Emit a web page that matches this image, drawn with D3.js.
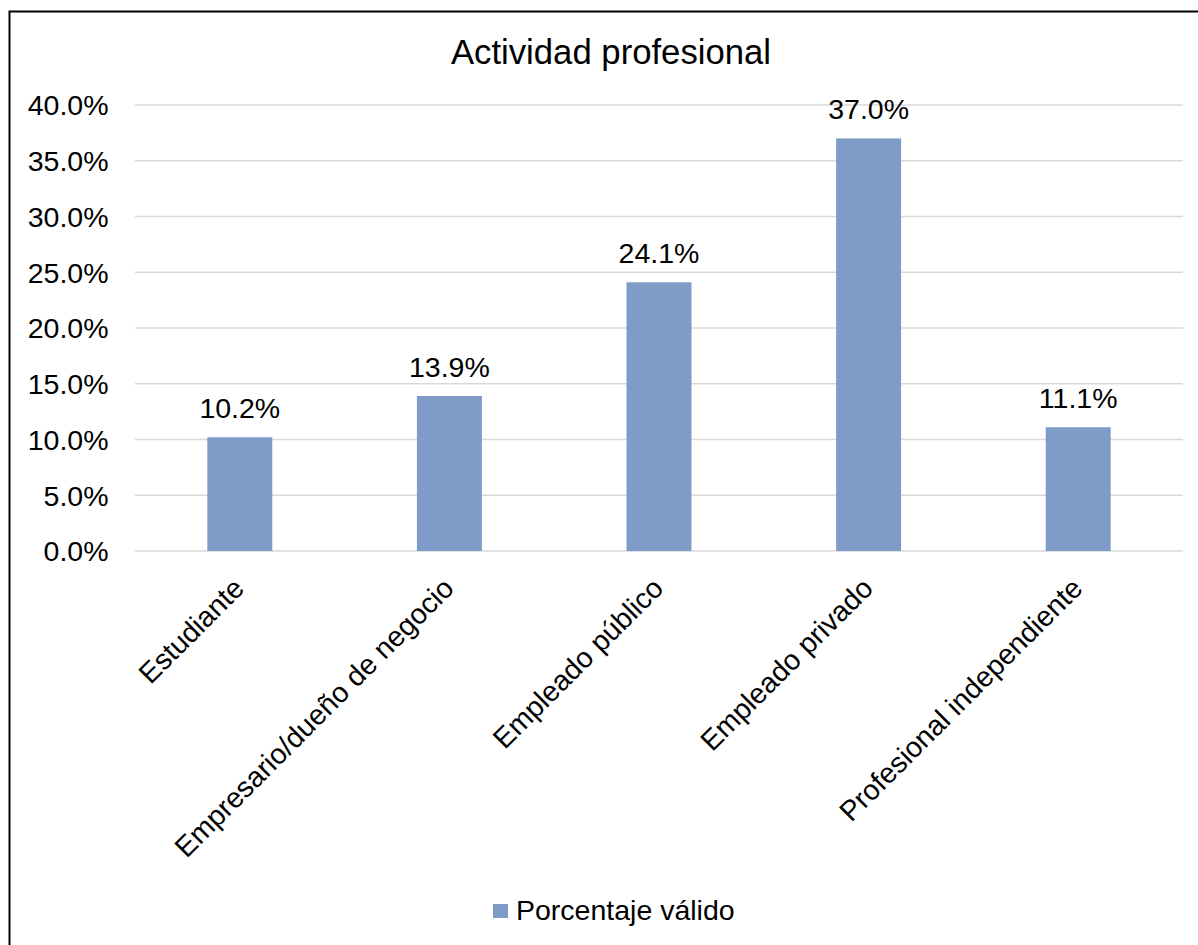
<!DOCTYPE html>
<html>
<head>
<meta charset="utf-8">
<script src="https://cdn.jsdelivr.net/npm/d3@7/dist/d3.min.js"></script>
<style>
  html, body { margin: 0; padding: 0; background: #fff; }
  svg { display: block; font-family: "Liberation Sans", Arial, sans-serif; }
</style>
</head>
<body>
<svg id="chart" width="1198" height="945"></svg>
<script>
// Data
const categories = ["Estudiante", "Empresario/dueño de negocio", "Empleado público", "Empleado privado", "Profesional independiente"];
const values = [10.2, 13.9, 24.1, 37.0, 11.1];
const yTicks = [0, 5, 10, 15, 20, 25, 30, 35, 40];
const seriesName = "Porcentaje válido";
const chartTitle = "Actividad profesional";

const W = 1198, H = 945;
const plot = { left: 135, right: 1183, top: 105, bottom: 551 };
const barColor = "#7F9CC8";

const svg = d3.select("#chart");

// Outer frame
svg.append("rect")
  .attr("x", 9.5).attr("y", 11.5)
  .attr("width", W + 20).attr("height", H + 20)
  .attr("fill", "#fff").attr("stroke", "#000").attr("stroke-width", 2);

const x = d3.scaleBand()
  .domain(categories)
  .range([plot.left, plot.right])
  .paddingInner(0.69)
  .paddingOuter(0.345);

const y = d3.scaleLinear()
  .domain([0, 40])
  .range([plot.bottom, plot.top]);

// Gridlines
svg.append("g")
  .selectAll("line")
  .data(yTicks)
  .join("line")
  .attr("x1", plot.left).attr("x2", plot.right)
  .attr("y1", d => y(d)).attr("y2", d => y(d))
  .attr("stroke", "#d9d9d9").attr("stroke-width", 1.5);

// Y axis labels
const yAxis = d3.axisLeft(y)
  .tickValues(yTicks)
  .tickSize(0)
  .tickPadding(0)
  .tickFormat(d => d3.format(".1f")(d) + "%");

const yG = svg.append("g")
  .attr("transform", `translate(${108.5},0)`)
  .call(yAxis);
yG.select(".domain").remove();
yG.selectAll("text")
  .attr("font-size", "28.5px")
  .attr("fill", "#000")
  .attr("font-family", "Liberation Sans, Arial, sans-serif")
  .attr("dy", "0.35em");

// Bars
svg.append("g")
  .selectAll("rect")
  .data(values)
  .join("rect")
  .attr("x", (d, i) => x(categories[i]))
  .attr("y", d => y(d))
  .attr("width", x.bandwidth())
  .attr("height", d => y(0) - y(d))
  .attr("fill", barColor);

// Value labels
svg.append("g")
  .selectAll("text")
  .data(values)
  .join("text")
  .attr("x", (d, i) => x(categories[i]) + x.bandwidth() / 2)
  .attr("y", d => y(d) - 19)
  .attr("text-anchor", "middle")
  .attr("font-size", "28.5px")
  .attr("fill", "#000")
  .text(d => d3.format(".1f")(d) + "%");

// Category labels (rotated)
svg.append("g")
  .selectAll("text")
  .data(categories)
  .join("text")
  .attr("transform", d => `translate(${x(d) + x.bandwidth() / 2 + 6},${590}) rotate(-45)`)
  .attr("text-anchor", "end")
  .attr("font-size", "28.5px")
  .attr("fill", "#000")
  .text(d => d);

// Title
svg.append("text")
  .attr("x", 611).attr("y", 64)
  .attr("text-anchor", "middle")
  .attr("font-size", "34.7px")
  .attr("fill", "#000")
  .text(chartTitle);

// Legend
const legend = svg.append("g").attr("transform", "translate(493,904)");
legend.append("rect")
  .attr("x", 0).attr("y", 0)
  .attr("width", 15).attr("height", 14)
  .attr("fill", barColor);
legend.append("text")
  .attr("x", 23).attr("y", 16)
  .attr("font-size", "28.5px")
  .attr("fill", "#000")
  .text(seriesName);
</script>
</body>
</html>
